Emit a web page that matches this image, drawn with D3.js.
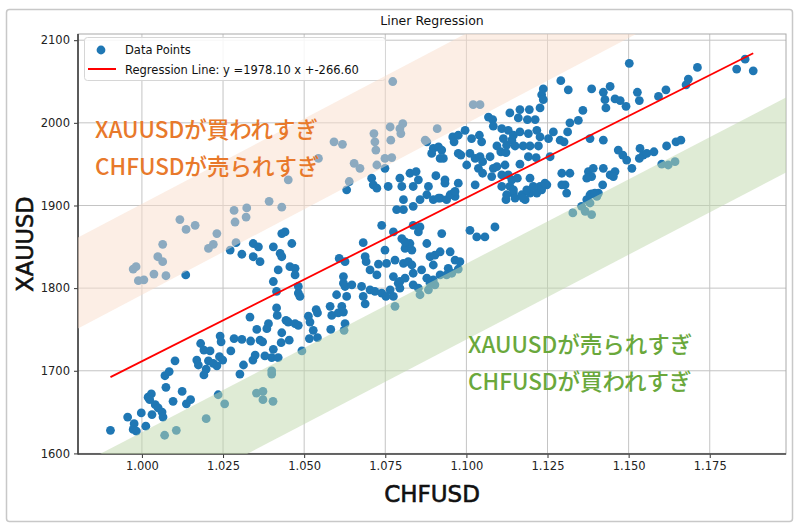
<!DOCTYPE html>
<html><head><meta charset="utf-8">
<script src="https://cdn.jsdelivr.net/npm/d3@7"></script>
<style>
html,body{margin:0;padding:0;background:#fff;}
svg{display:block;font-family:"DejaVu Sans",sans-serif;}
</style></head><body>
<svg id="chart" width="800" height="530"></svg>
<script>
// ---- data ----
const chfusd = [0.9903,0.9956,0.9976,0.9973,0.9983,0.9998,1.0012,1.0031,1.0019,1.0029,1.0024,1.0041,1.0050,1.0062,1.0065,1.0074,1.0096,1.0124,1.0137,1.0150,1.0071,1.0084,1.0102,1.0235,1.0255,1.0198,1.0070,1.0106,1.0353,1.0373,1.0373,1.0404,1.0400,1.0400,1.0493,1.0623,1.0780,1.0857,1.0883,1.0169,1.0174,1.0181,1.0191,1.0198,1.0191,1.0210,1.0205,1.0220,1.0231,1.0241,1.0244,1.0239,1.0249,1.0274,1.0284,1.0308,1.0302,1.0313,1.0333,1.0335,1.0342,1.0349,1.0354,1.0364,1.0372,1.0379,1.0390,1.0385,1.0400,1.0405,1.0420,1.0415,1.0417,1.0431,1.0429,1.0444,1.0454,1.0451,1.0472,1.0482,1.0482,1.0487,1.0513,1.0518,1.0516,1.0528,1.0541,1.0537,1.0541,1.0580,1.0585,1.0582,1.0600,1.0605,1.0616,1.0621,1.0626,1.0631,1.0626,1.0647,1.0677,1.0682,1.0688,1.0703,1.0718,1.0739,1.0765,1.0775,1.0795,1.0836,1.0903,0.9973,0.9989,1.0006,0.9982,1.0037,1.0074,1.0049,1.0064,1.0064,1.0117,1.0136,1.0164,1.0205,1.0220,1.0231,1.0284,1.0323,1.0287,1.0321,1.0290,1.0392,1.0431,1.0451,1.0544,1.0592,1.0618,1.0654,1.0672,1.0639,1.0715,1.0718,1.0721,1.0724,1.0135,1.0272,1.0308,1.0343,1.0359,1.0343,1.0364,1.0405,1.0431,1.0441,1.0426,1.0431,1.0462,1.0456,1.0472,1.0472,1.0405,1.0420,1.0482,1.0415,1.0608,1.0626,1.0682,1.0688,1.0691,1.0703,1.0729,1.0724,1.0621,1.0621,1.0708,1.0713,1.0724,1.0631,1.0773,1.0765,1.0795,1.0804,1.0798,1.0767,1.0910,1.0873,1.0878,1.0749,1.0770,1.0749,1.0759,1.0795,1.0826,1.0845,1.0852,1.0801,1.0836,1.0898,1.0914,1.0893,1.0924,1.0919,1.0958,1.0962,1.0975,1.0975,1.0906,1.0934,1.0975,1.0883,1.1021,1.1042,1.1291,1.1314,1.1386,1.1443,1.1422,1.1427,1.1430,1.1458,1.1474,1.1492,1.1502,1.1527,1.1533,1.1592,1.1615,1.1677,1.1684,1.1712,1.1833,1.1859,1.1884,1.1237,1.1232,1.1237,1.1227,1.1134,1.1165,1.1194,1.1160,1.1188,1.1212,1.1359,1.1345,1.1319,1.1312,1.1068,1.1081,1.1083,1.0996,1.1016,1.1040,1.1047,1.1109,1.1129,1.1145,1.1165,1.1191,1.1217,1.1227,1.1253,1.1268,1.1114,1.1124,1.1140,1.1094,1.1106,1.1122,1.1150,1.1175,1.1196,1.1222,1.1191,1.1215,1.1258,1.1289,1.1301,1.1381,1.1422,1.0929,1.0983,1.1011,1.1027,1.1042,1.1050,1.1073,1.1001,1.1037,1.1050,1.1083,1.1094,1.1119,1.1165,1.1109,1.1129,1.1140,1.1157,1.1078,1.1027,1.0960,1.1109,1.1134,1.1145,1.1122,1.1150,1.1171,1.1181,1.1196,1.1217,1.1227,1.1248,1.1196,1.1294,1.1319,1.1304,1.1309,1.1376,1.1386,1.1371,1.1391,1.1422,1.1443,1.1458,1.1453,1.1420,1.1386,1.1407,1.1328,1.1355,1.1366,1.1386,1.1381,1.1402,1.1371,1.1468,1.1482,1.1494,1.1510,1.1535,1.1545,1.1556,1.1533,1.1578,1.1617,1.1646,1.1661,1.1602,1.1622,1.1643,1.0919,1.0939,1.0965,1.0924,1.1011,1.1032,1.1057,1.1088,1.0739,1.0749,1.0775,1.0780,1.0754,1.0775,1.0790,1.0752,1.0795,1.0811,1.0806,1.0821,1.0832,1.0836,1.0811,1.0832,1.0826,1.0852,1.0857,1.0836,1.0801,1.0811,1.0862,1.0878,1.0888,1.0898,1.0903,1.0919,1.0950,1.0965,1.0980,1.0944,1.0919,1.0898,1.0878,1.0852,1.0888,1.0939,1.0955,1.0975,1.0806,1.0785,1.0806,1.0836,1.0857,1.0878,1.0898,1.0914,1.0950,1.0965,1.0934,1.1124,1.1145,1.1186,1.1206,1.1232,1.1242,1.1175,1.1294,1.1381,1.1396];
const xauusd = [1628,1644,1636,1629,1627,1649,1633,1647,1668,1672,1665,1659,1655,1650,1644,1680,1663,1675,1660,1665,1694,1699,1712,1671,1660,1642,1622,1628,1673,1675,1665,1663,1700,1696,1724,1749,1778,1792,1798,1713,1707,1733,1725,1702,1695,1724,1712,1709,1706,1742,1735,1717,1713,1724,1739,1738,1696,1707,1765,1736,1713,1719,1750,1737,1735,1718,1757,1751,1716,1726,1716,1776,1767,1746,1734,1761,1737,1759,1757,1755,1794,1790,1766,1759,1739,1749,1740,1774,1770,1778,1767,1750,1792,1770,1778,1771,1757,1790,1802,1804,1802,1790,1781,1798,1796,1794,1798,1790,1808,1804,1804,1823,1809,1810,1826,1817,1815,1838,1832,1853,1883,1871,1876,1848,1853,1866,1894,1897,1880,1886,1855,1905,1898,1931,1957,1977,1974,1951,1945,1929,1987,1977,1967,1949,1816,1846,1841,1854,1850,1838,1832,1850,1866,1868,1842,1838,1854,1826,1824,1816,1808,1822,1802,1796,1836,1832,1855,1838,1832,1822,1829,1816,1814,1806,1933,1925,1921,1919,2050,1995,1993,1999,1987,1979,1993,1979,1977,1957,1958,1945,1923,1933,1939,1941,1931,1923,1923,1969,1971,1963,1967,1957,1983,1977,1985,1963,1936,1931,1927,1923,2022,2022,2051,2040,2041,2044,2037,2028,2018,2029,2027,2020,2072,2037,2027,2032,2040,2046,2053,2067,2065,2077,2063,2041,2034,2028,2018,2012,2016,2016,2006,2004,2004,2015,2003,2000,1989,2007,2004,1996,1991,1981,1985,1977,1993,1991,1985,1989,1987,1991,1983,1981,1989,1981,1973,1979,1972,1965,1964,1972,1972,1972,1972,1959,1958,1959,1979,1977,1981,1979,1957,1961,1963,1957,1959,1953,1959,1949,1945,1939,1945,1947,1949,1950,1937,1937,1931,1933,1935,1925,1915,1923,1923,1915,1907,1909,1913,1907,1915,1915,1923,1925,1933,1939,1939,1925,1915,1941,1935,1933,1945,1945,1937,1941,1935,1925,1914,1915,1891,1899,1893,1889,1903,1911,1907,1967,1961,1955,1945,1969,1961,1963,1957,1965,1972,1977,1979,1950,1949,1953,1909,1907,1911,1866,1870,1862,1862,1874,1876,1846,1868,1834,1830,1814,1806,1790,1800,1812,1830,1832,1828,1818,1848,1846,1854,1868,1874,1876,1860,1856,1822,1854,1838,1828,1840,1844,1844,1834,1832,1824,1816,1810,1812,1800,1806,1816,1818,1823,1907,1895,1895,1899,1907,1913,1907,1909,1913,1917,1927,1913,1919,1919,1923,1919,1927,1909,1925,1913,1915];
const slope = 1978.10, intercept = -266.60;
const xTicks = [1.000,1.025,1.050,1.075,1.100,1.125,1.150,1.175];
const yTicks = [1600,1700,1800,1900,2000,2100];
const xLimits = [0.9803, 1.1985];
const yLimits = [1599.3, 2107.5];
// annotation bands: [x, y] pairs on each edge (data units)
const orangeUpper = [[0.9806,1861.8],[1.0996,2107.5]];
const orangeLower = [[0.9806,1751.7],[1.1523,2107.5]];
const greenUpper  = [[0.98647,1598.1],[1.1982,2030.0]];
const greenLower  = [[1.0318,1598.1],[1.1982,1939.3]];
const titleText = "Liner Regression";
const legendLabels = ["Data Points", "Regression Line: y =1978.10 x +-266.60"];
const notesOrange = ["XAUUSDが買われすぎ","CHFUSDが売られすぎ"];
const notesGreen  = ["XAUUSDが売られすぎ","CHFUSDが買われすぎ"];

// ---- layout ----
const svg = d3.select("#chart");
const L = 78, R = 786, T = 34, B = 454;
const x = d3.scaleLinear().domain(xLimits).range([L, R]);
const y = d3.scaleLinear().domain(yLimits).range([B, T]);

// figure frame
svg.append("rect").attr("x",6.5).attr("y",9.5).attr("width",786).attr("height",512)
  .attr("rx",3).attr("fill","#fff").attr("stroke","#c8c8c8").attr("stroke-width",1.5);

svg.append("defs").append("clipPath").attr("id","plotclip")
  .append("rect").attr("x",L).attr("y",T).attr("width",R-L).attr("height",B-T);

// grid
const grid = svg.append("g").attr("stroke","#c4c4c4").attr("stroke-width",1);
grid.selectAll("line.vx").data(xTicks).join("line")
  .attr("x1",d=>x(d)).attr("x2",d=>x(d)).attr("y1",T).attr("y2",B);
grid.selectAll("line.hy").data(yTicks).join("line")
  .attr("x1",L).attr("x2",R).attr("y1",d=>y(d)).attr("y2",d=>y(d));

// points
const pts = chfusd.map((v,i)=>[v, xauusd[i]]);
const plot = svg.append("g").attr("clip-path","url(#plotclip)");
plot.selectAll("circle").data(pts).join("circle")
  .attr("cx",d=>x(d[0])).attr("cy",d=>y(d[1])).attr("r",4.4)
  .attr("fill","#1f77b4");

// regression line
const xr = d3.extent(chfusd);
plot.append("path")
  .attr("d", d3.line().x(d=>x(d)).y(d=>y(slope*d+intercept))(xr))
  .attr("stroke","#ff0000").attr("stroke-width",1.8).attr("fill","none");

// axes
const xAxis = d3.axisBottom(x).tickValues(xTicks).tickFormat(d3.format(".3f")).tickSize(4).tickPadding(4);
const yAxis = d3.axisLeft(y).tickValues(yTicks).tickFormat(d3.format("d")).tickSize(4).tickPadding(4);
const gx = svg.append("g").attr("transform",`translate(0,${B})`).call(xAxis);
const gy = svg.append("g").attr("transform",`translate(${L},0)`).call(yAxis);
[gx,gy].forEach(g=>{
  g.select(".domain").remove();
  g.selectAll("text").attr("font-family","DejaVu Sans").attr("font-size",11.5).attr("fill","#222");
  g.selectAll("line").attr("stroke","#333").attr("stroke-width",1);
});
// spines
svg.append("rect").attr("x",L).attr("y",T).attr("width",R-L).attr("height",B-T)
  .attr("fill","none").attr("stroke","#aaa").attr("stroke-width",1);
svg.append("line").attr("x1",L).attr("x2",L).attr("y1",T).attr("y2",B+0.5).attr("stroke","#333").attr("stroke-width",1.5);
svg.append("line").attr("x1",L).attr("x2",R).attr("y1",B).attr("y2",B).attr("stroke","#444").attr("stroke-width",1.5);

// legend
const lg = svg.append("g");
lg.append("rect").attr("x",84.5).attr("y",37.5).attr("width",301).attr("height",43).attr("rx",3)
  .attr("fill","#fff").attr("fill-opacity",0.85).attr("stroke","#d6d6d6");
lg.append("circle").attr("cx",101).attr("cy",50).attr("r",4.4).attr("fill","#1f77b4");
lg.append("line").attr("x1",88).attr("x2",116).attr("y1",69).attr("y2",69).attr("stroke","#ff0000").attr("stroke-width",2);
lg.selectAll("text").data(legendLabels).join("text")
  .attr("x",125).attr("y",(d,i)=>54+i*19.5).attr("font-size",11.5).attr("fill","#111").text(d=>d);

// annotation bands (overlay)
function band(upper, lower){
  const lineAt = (e,xv)=> e[0][1] + (e[1][1]-e[0][1])/(e[1][0]-e[0][0])*(xv-e[0][0]);
  const x0 = xLimits[0]-0.01, x1 = xLimits[1]+0.01;
  return [[x0,lineAt(upper,x0)],[x1,lineAt(upper,x1)],[x1,lineAt(lower,x1)],[x0,lineAt(lower,x0)]];
}
const bands = svg.append("g").attr("clip-path","url(#plotclip)");
bands.append("path").datum(band(orangeUpper,orangeLower))
  .attr("d", d=>"M"+d.map(p=>[x(p[0]),y(p[1])].join(",")).join("L")+"Z")
  .attr("fill","rgb(249,222,204)").attr("fill-opacity",0.5);
bands.append("path").datum(band(greenUpper,greenLower))
  .attr("d", d=>"M"+d.map(p=>[x(p[0]),y(p[1])].join(",")).join("L")+"Z")
  .attr("fill","rgb(192,215,172)").attr("fill-opacity",0.5);

// texts
svg.append("text").attr("x",(L+R)/2).attr("y",25).attr("text-anchor","middle")
  .attr("font-size",12.5).attr("fill","#111").text(titleText);
svg.append("text").attr("x",(L+R)/2).attr("y",502).attr("text-anchor","middle")
  .attr("font-size",23).attr("fill","#111").attr("stroke","#111").attr("stroke-width",0.6).text("CHFUSD");
svg.append("text").attr("transform",`translate(33,${(T+B)/2}) rotate(-90)`).attr("text-anchor","middle")
  .attr("font-size",22.5).attr("fill","#111").attr("stroke","#111").attr("stroke-width",0.6).text("XAUUSD");

const jp = "'Noto Sans CJK JP','Noto Sans CJK SC',sans-serif";
svg.selectAll("text.no").data(notesOrange).join("text").attr("class","no")
  .attr("x",95).attr("y",(d,i)=>138+i*37).attr("font-family",jp).attr("font-weight",500)
  .attr("font-size",22.5).attr("fill","#e8792b").text(d=>d);
svg.selectAll("text.ng").data(notesGreen).join("text").attr("class","ng")
  .attr("x",468).attr("y",(d,i)=>353+i*37).attr("font-family",jp).attr("font-weight",500)
  .attr("font-size",22.5).attr("fill","#6aa83c").text(d=>d);
</script>
</body></html>
